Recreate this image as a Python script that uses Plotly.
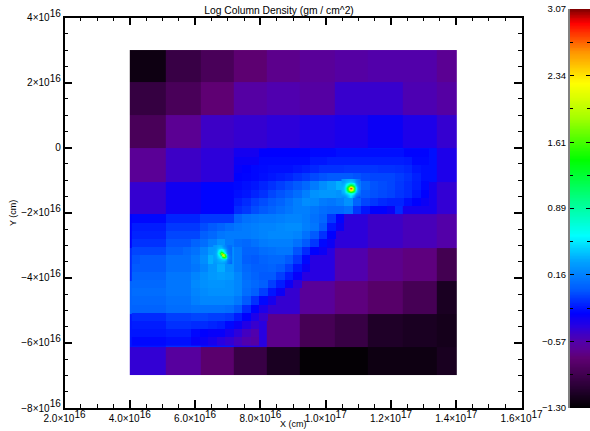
import numpy as np
import plotly.graph_objects as go

W, H = 590, 431
FONT = "Liberation Sans"
_ = None

# ---- data (log column density, in hundredths) ----
coarse_x_edges = [4.0, 5.10, 6.16, 7.17, 8.21, 9.21, 10.28, 11.29, 12.35, 13.39, 14.0]
coarse_y_edges = [3.0, 2.02, 1.01, 0.0, -1.07, -2.05, -3.09, -4.09, -5.10, -6.14, -7.0]
coarse_values = [
    [-122, -98, -88, -76, -68, -64, -60, -57, -57, -66],
    [-100, -88, -75, -60, -55, -60, -46, -46, -54, -60],
    [-88, -66, -48, -45, -42, -38, -35, -30, -36, -45],
    [-65, -48, -42, -33, -25, -24, -20, -18, -22, -36],
    [-45, -32, -25, -22, -12, -10, -10, -14, -34, -44],
    [-26, -18, -10, 0, 10, -30, -42, -48, -52, -58],
    [-14, 0, 8, 10, 4, -40, -56, -68, -72, -92],
    [4, 10, 12, 6, -45, -64, -72, -80, -90, -115],
    [-20, -14, -20, -40, -68, -90, -98, -112, -115, -118],
    [-44, -62, -78, -98, -115, -128, -128, -122, -122, -116],
]

fine_x0, fine_dx = 4.06, 0.2607
fine_y0, fine_dy = -0.03, -0.2523
fine_values = [
    [_]*12 + [-33,-33,-33,-26,-26,-26,-26,-26,-26,-24,-24,-24,-22,-22,-22,-22,-22,-22,-22,-22,-25,-25,-25] + [_]*3,
    [_]*12 + [-30,-30,-30,-24,-24,-24,-24,-24,-24,-20,-20,-18,-18,-18,-18,-18,-18,-18,-18,-18,-19,-24,-24] + [_]*3,
    [_]*12 + [-28,-26,-24,-23,-22,-22,-22,-20,-18,-15,-12,-12,-12,-11,-11,-11,-11,-12,-12,-13,-15,-20,-22] + [_]*3,
    [_]*12 + [-26,-25,-24,-22,-20,-18,-16,-12,-9,-5,-2,0,0,0,-2,-5,-6,-6,-6,-9,-12,-17,-22] + [_]*3,
    [_]*12 + [-24,-22,-20,-16,-12,-8,-4,0,6,14,22,28,35,50,18,4,-2,-4,-6,-10,-14,-18,-24] + [_]*3,
    [_]*12 + [-22,-20,-16,-12,-6,-2,2,8,16,24,26,26,24,40,8,0,-3,-5,-7,-11,-14,-20,-26] + [_]*3,
    [_]*12 + [-18,-14,-8,-4,0,4,10,16,22,20,14,12,16,24,4,-6,-10,-14,-16,-16,-22,-26,-30] + [_]*3,
    [_]*12 + [-14,-10,-4,0,4,8,12,16,16,12,8,6,6,10,-10,-20,-26,-26,-30] + [_]*7,
    [-24,-24,-24,-24,-16,-16,-16,-16,-10,-10,-10,-10,4,10,12,14,14,16,18,18,15,10,5,-10,-25] + [_]*13,
    [-18,-18,-18,-18,-10,-10,-10,-10,-4,0,4,8,12,14,16,18,18,20,22,22,16,12,0,-20,-30] + [_]*13,
    [-16,-16,-16,-16,-6,-6,-6,-6,2,6,12,14,14,14,16,18,20,20,20,18,10,0,-12,-26] + [_]*14,
    [-12,-12,-12,-12,-2,-2,-2,4,8,16,24,14,8,6,10,14,16,16,16,10,0,-10,-24] + [_]*15,
    [-6,-6,-6,-6,2,2,6,10,18,28,40,24,14,4,4,8,10,12,12,-2,-14,-26,-30] + [_]*15,
    [-2,0,0,0,8,8,8,14,22,35,60,24,14,2,0,4,6,6,0,-10,-24] + [_]*17,
    [0,0,0,0,8,8,8,12,18,26,34,24,14,6,2,2,4,0,-8,-20,-30] + [_]*17,
    [4,4,4,4,12,12,12,18,23,27,29,27,19,8,4,0,0,-8,-18,-28] + [_]*18,
    [6,6,6,6,12,12,12,20,23,25,25,23,19,10,6,2,-8,-18,-30,-42] + [_]*18,
    [8,8,8,8,12,12,12,18,21,23,23,23,19,8,2,-8,-20,-30] + [_]*20,
    [6,6,6,6,10,10,10,16,19,19,19,19,13,0,-12,-24,-34] + [_]*21,
    [4,4,4,4,8,8,8,10,10,10,10,8,0,-14,-26,-36] + [_]*22,
    [-14,-14,-14,-14,-8,-8,-8,-6,-6,-8,-8,-10,-18,-26,-36,-46] + [_]*22,
    [-18,-18,-18,-18,-12,-12,-12,-14,-14,-16,-18,-24,-30,-38,-46] + [_]*23,
    [-20,-20,-20,-20,-18,-18,-18,-24,-26,-28,-28,-34,-42,-50,-56] + [_]*23,
    [-24,-24,-24,-24,-22,-22,-22,-28,-30,-34,-40,-44,-50,-56,-60] + [_]*23,
]

sink_cell = 0.052
sink_a_center = (10.77, -1.25)
sink_a_values = [
    [28,30,32,34,35,36,34,28,20,14,10],
    [30,32,36,40,44,46,42,34,24,16,10],
    [32,36,42,54,70,76,68,50,30,18,12],
    [34,40,54,84,120,134,118,80,42,22,12],
    [36,44,72,130,205,235,200,124,58,26,14],
    [36,46,80,145,235,295,230,138,62,28,14],
    [36,44,72,130,205,235,200,124,56,26,14],
    [34,40,54,84,118,132,116,78,42,22,12],
    [32,38,44,52,66,74,64,46,28,16,10],
    [26,30,32,40,50,56,44,28,16,8,4],
    [20,22,24,34,44,50,34,16,4,-2,-6],
]
sink_b_center = (6.84, -3.28)
sink_b_values = [
    [28,30,32,34,32,28,20,14,10,8,8],
    [28,32,36,40,42,38,28,18,12,8,6],
    [28,32,40,52,62,56,40,24,14,8,6],
    [30,34,44,70,100,80,50,30,16,10,6],
    [30,36,50,90,185,175,80,34,18,10,6],
    [30,36,46,70,170,262,170,60,24,12,6],
    [30,34,42,54,80,175,190,100,30,14,8],
    [30,32,38,44,54,80,100,70,26,14,8],
    [30,30,34,38,42,46,48,36,20,12,8],
    [28,30,32,34,36,36,34,26,16,10,6],
    [26,28,30,30,30,30,28,22,14,8,4],
]

z_min, z_max = -1.30, 3.07
x_tick_vals = [2, 4, 6, 8, 10, 12, 14, 16]
x_tick_text = ["2.0×10", "4.0×10", "6.0×10", "8.0×10", "1.0×10", "1.2×10", "1.4×10", "1.6×10"]
x_tick_exp = [16, 16, 16, 16, 17, 17, 17, 17]
y_tick_vals = [4, 2, 0, -2, -4, -6, -8]
y_tick_text = ["4×10", "2×10", "0", "−2×10", "−4×10", "−6×10", "−8×10"]
bar_tick_vals = [3.07, 2.34, 1.61, 0.89, 0.16, -0.57, -1.30]
bar_tick_text = ["3.07", "2.34", "1.61", "0.89", "0.16", "−0.57", "−1.30"]
bar_minor_vals = [2.705, 1.975, 1.25, 0.525, -0.205, -0.935]

color_stops = [
    (-1.30, (0, 0, 0)), (-1.10, (35, 0, 45)), (-0.90, (70, 0, 85)), (-0.75, (95, 0, 115)),
    (-0.65, (90, 0, 150)), (-0.55, (80, 0, 175)), (-0.40, (40, 0, 225)), (-0.26, (0, 0, 255)),
    (0.0, (0, 90, 255)), (0.30, (0, 160, 255)), (0.59, (0, 255, 255)), (1.0, (0, 255, 130)),
    (1.42, (0, 255, 0)), (1.90, (170, 255, 0)), (2.26, (255, 255, 0)), (2.60, (255, 150, 0)),
    (2.92, (255, 0, 0)), (3.07, (130, 0, 0)),
]
colorscale = [[(v - z_min) / (z_max - z_min), f"rgb{c}"] for v, c in color_stops]


def grid(rows):
    return np.array([[np.nan if v is None else v / 100 for v in r] for r in rows], dtype=float)


def sup(base, exp):
    return f"{base}<sup><span style='font-size:10px'>{exp}</span></sup>"


fig = go.Figure()
fig.add_trace(go.Heatmap(x=np.array(coarse_x_edges) * 1e16, y=np.array(coarse_y_edges) * 1e16,
                         z=grid(coarse_values), coloraxis="coloraxis"))
fine = grid(fine_values)
fig.add_trace(go.Heatmap(x=(fine_x0 + fine_dx * np.arange(fine.shape[1] + 1)) * 1e16,
                         y=(fine_y0 + fine_dy * np.arange(fine.shape[0] + 1)) * 1e16,
                         z=fine, coloraxis="coloraxis"))
for center, vals in ((sink_a_center, sink_a_values), (sink_b_center, sink_b_values)):
    s = grid(vals)
    off = (np.arange(s.shape[0]) - (s.shape[0] - 1) / 2) * sink_cell
    fig.add_trace(go.Heatmap(x=(center[0] + off) * 1e16, y=(center[1] - off) * 1e16, z=s,
                             coloraxis="coloraxis", zsmooth="best"))

bar_levels = np.linspace(z_min, z_max, 256)
fig.add_trace(go.Heatmap(x=[0, 1], y=bar_levels, z=np.column_stack([bar_levels, bar_levels]),
                         coloraxis="coloraxis", xaxis="x2", yaxis="y2", zsmooth="best"))

tickfont = dict(family=FONT, size=10, color="black")
axis_title_font = dict(family=FONT, size=9, color="black")
fig.update_layout(
    width=W, height=H, autosize=False,
    margin=dict(l=0, r=0, t=0, b=0),
    paper_bgcolor="white", plot_bgcolor="white", showlegend=False,
    coloraxis=dict(colorscale=colorscale, cmin=z_min, cmax=z_max, showscale=False),
    title=dict(text="Log Column Density (gm / cm^2)", x=279 / W, y=1 - 10.5 / H, xanchor="center",
               yanchor="middle", font=dict(family=FONT, size=10.3, color="black")),
    xaxis=dict(domain=[64.5 / W, 521.6 / W], range=[2e16, 1.6e17], anchor="y", automargin=False,
               tickmode="array", tickvals=[v * 1e16 for v in x_tick_vals],
               ticktext=[sup(t, e) for t, e in zip(x_tick_text, x_tick_exp)],
               ticks="inside", ticklen=8, tickwidth=1.5, tickcolor="black", tickangle=0,
               minor=dict(dtick=5e15, ticks="inside", ticklen=4, tickwidth=1.2, tickcolor="black", showgrid=False),
               showline=True, linecolor="black", linewidth=1.5, mirror="ticks", showgrid=False, zeroline=False,
               tickfont=tickfont),
    yaxis=dict(domain=[1 - 408 / H, 1 - 17.5 / H], range=[-8e16, 4e16], anchor="x", automargin=False,
               tickmode="array", tickvals=[v * 1e16 for v in y_tick_vals],
               ticktext=[sup(t, 16) if t != "0" else t for t in y_tick_text],
               ticks="inside", ticklen=8, tickwidth=1.5, tickcolor="black",
               minor=dict(dtick=5e15, ticks="inside", ticklen=4, tickwidth=1.2, tickcolor="black", showgrid=False),
               showline=True, linecolor="black", linewidth=1.5, mirror="ticks", showgrid=False, zeroline=False,
               tickfont=tickfont),
    xaxis2=dict(domain=[570 / W, 1.0], range=[0, 1], anchor="y2", showticklabels=False, ticks="", automargin=False,
                showgrid=False, zeroline=False, showline=False),
    yaxis2=dict(domain=[1 - 408 / H, 1 - 9 / H], range=[z_min, z_max], anchor="x2", side="left", automargin=False,
                tickmode="array", tickvals=bar_tick_vals, ticktext=bar_tick_text,
                ticks="inside", ticklen=4, tickwidth=1.2, tickcolor="black",
                minor=dict(tickvals=bar_minor_vals, ticks="inside", ticklen=3, tickwidth=1, tickcolor="black", showgrid=False),
                showline=True, linecolor="#808080", linewidth=2, mirror="ticks", showgrid=False, zeroline=False,
                tickfont=dict(family=FONT, size=9.5, color="black")),
    annotations=[
        dict(text="X (cm)", xref="paper", yref="paper", x=293 / W, y=1 - 424 / H, xanchor="center",
             yanchor="middle", showarrow=False, font=axis_title_font),
        dict(text="Y (cm)", xref="paper", yref="paper", x=13 / W, y=1 - 213 / H, xanchor="center",
             yanchor="middle", textangle=-90, showarrow=False, font=axis_title_font),
    ],
)
fig.write_html("out.html", config={"displayModeBar": False},
               post_script="document.body.style.margin='0';")
